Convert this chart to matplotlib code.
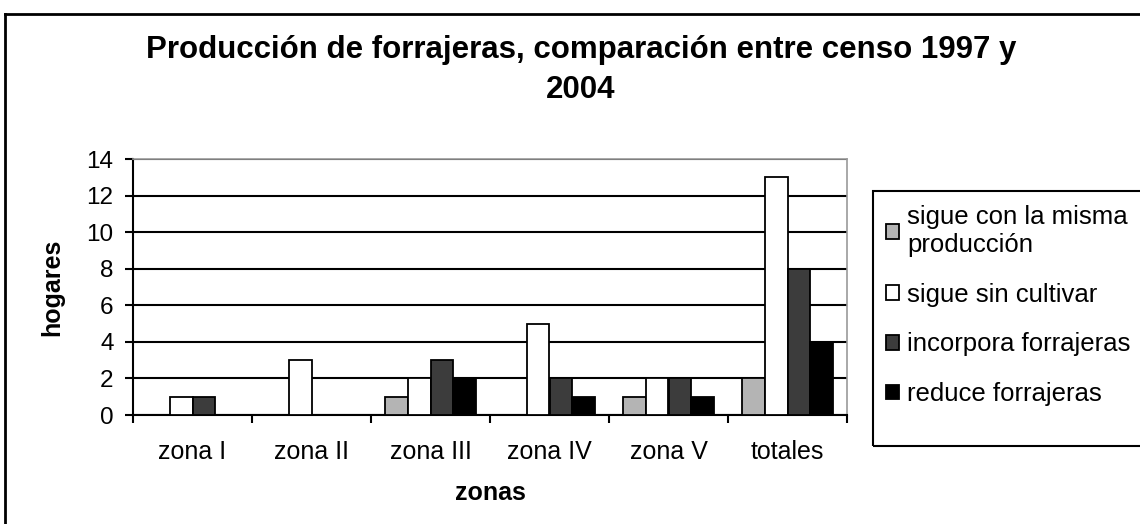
import numpy as np
import matplotlib
matplotlib.use('Agg')
import matplotlib.pyplot as plt
from matplotlib.patches import Rectangle
from matplotlib.lines import Line2D

plt.rcParams['font.family'] = ['Liberation Sans', 'DejaVu Sans']

# datos
zonas = ['zona I', 'zona II', 'zona III', 'zona IV', 'zona V', 'totales']
series = ['sigue con la misma\nproducción', 'sigue sin cultivar',
          'incorpora forrajeras', 'reduce forrajeras']
misma_produccion = [0, 0, 1, 0, 1, 2]
sin_cultivar = [1, 3, 2, 5, 2, 13]
incorpora = [1, 0, 3, 2, 2, 8]
reduce = [0, 0, 2, 1, 1, 4]
valores = [misma_produccion, sin_cultivar, incorpora, reduce]
colores = ['#b4b4b4', '#ffffff', '#3c3c3c', '#000000']

W, H = 1140, 524
fig = plt.figure(figsize=(W / 100, H / 100), dpi=100)
ax = fig.add_axes([133 / W, 1 - 415 / H, 714 / W, 256 / H])

x = np.arange(len(zonas))
ancho = 0.19
for i, (vals, col, lab) in enumerate(zip(valores, colores, series)):
    ax.bar(x + (i - 1.5) * ancho, vals, ancho, color=col, edgecolor='black',
           linewidth=1.3, label=lab, zorder=3)

ax.set_xlim(-0.5, len(zonas) - 0.5)
ax.set_ylim(0, 14)
ax.set_yticks(np.arange(0, 15, 2))
ax.yaxis.grid(True, color='black', linewidth=1.5, zorder=0)
ax.set_axisbelow(True)

# ticks del eje x en los límites de cada grupo
ax.set_xticks(x)
ax.set_xticklabels(zonas)
ax.set_xticks(np.arange(-0.5, len(zonas)), minor=True)
ax.tick_params(axis='x', which='major', length=0, pad=18, labelsize=18)
ax.tick_params(axis='x', which='minor', length=6, width=1.5, direction='out')
ax.tick_params(axis='y', length=6, width=1.5, direction='out', pad=8, labelsize=17.5)

for s in ['left', 'bottom']:
    ax.spines[s].set_linewidth(1.5)
    ax.spines[s].set_color('black')
for s in ['top', 'right']:
    ax.spines[s].set_linewidth(1.2)
    ax.spines[s].set_color('#999999')

ax.set_xlabel('zonas', fontsize=18, fontweight='bold', labelpad=12)
ax.set_ylabel('hogares', fontsize=18, fontweight='bold', labelpad=16)

fig.text(581 / W, 1 - 70 / H,
         'Producción de forrajeras, comparación entre censo 1997 y\n2004',
         ha='center', va='center', fontsize=22.5, fontweight='bold',
         linespacing=1.4)

# marco exterior del gráfico
fig.add_artist(Line2D([5 / W, 5 / W], [0, 1 - 14 / H], color='black',
                      linewidth=2, transform=fig.transFigure))
fig.add_artist(Line2D([5 / W, 1], [1 - 14 / H, 1 - 14 / H], color='black',
                      linewidth=2, transform=fig.transFigure))

# leyenda
fig.add_artist(Rectangle((873 / W, 1 - 446 / H), 300 / W, 255 / H,
                         transform=fig.transFigure, fill=False,
                         edgecolor='black', linewidth=1.5))
fig.legend(loc='upper left', bbox_to_anchor=(876 / W, 1 - 195 / H),
           frameon=False, fontsize=18.5, handlelength=0.5, handleheight=0.5,
           handletextpad=0.3, labelspacing=1.0, borderaxespad=0)

fig.savefig('out.png', dpi=100)
